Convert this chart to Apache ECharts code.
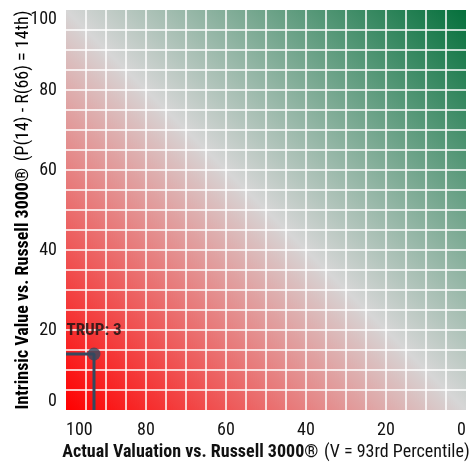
<!DOCTYPE html>
<html>
<head>
<meta charset="utf-8">
<script src="https://cdn.jsdelivr.net/npm/echarts@6/dist/echarts.min.js"></script>
<style>
  html, body { margin: 0; padding: 0; background: #ffffff; }
  #chart { width: 474px; height: 463px; }
</style>
</head>
<body>
<div id="chart"></div>
<script>
// ---- data ----
const companyNames = ['TRUP'];
const companyScores = [3];
const actualValuation = [93];   // x: percentile vs Russell 3000
const intrinsicValue = [14];    // y: percentile vs Russell 3000
const axisMin = 0;
const axisMax = 100;
const labelStep = 20;
const gridStep = 5;
const xTitleBold = 'Actual Valuation vs. Russell 3000®';
const xTitleRegular = '(V = 93rd Percentile)';
const yTitleBold = 'Intrinsic Value vs. Russell 3000®';
const yTitleRegular = '(P(14) - R(66) = 14th)';

const FONT = "'Liberation Sans Narrow', 'Roboto Condensed', 'DejaVu Sans Condensed', sans-serif";

const chart = echarts.init(document.getElementById('chart'), null, { renderer: 'canvas' });

const pointData = companyNames.map((n, i) => ({
  name: n,
  value: [actualValuation[i], intrinsicValue[i]],
  score: companyScores[i]
}));

const guideData = [];
companyNames.forEach((n, i) => {
  guideData.push([axisMax, intrinsicValue[i]]);
  guideData.push([actualValuation[i], intrinsicValue[i]]);
  guideData.push([actualValuation[i], axisMin]);
});

const splitStyle = { color: '#ffffff', width: 1.5 };
const titleRich = {
  b: { fontFamily: FONT, fontWeight: 'bold', fontSize: 18, color: '#111' },
  r: { fontFamily: FONT, fontSize: 18, color: '#111' }
};

const option = {
  animation: false,
  textStyle: { fontFamily: FONT },
  grid: {
    left: 66, right: 8, top: 10, bottom: 53,
    containLabel: false,
    outerBoundsMode: 'none',
    show: true,
    borderWidth: 0,
    backgroundColor: {
      type: 'linear', x: 0, y: 1, x2: 1, y2: 0,
      colorStops: [
        { offset: 0, color: '#ff0000' },
        { offset: 0.5, color: '#d6d6d6' },
        { offset: 1, color: '#05703c' }
      ]
    }
  },
  graphic: [
    {
      type: 'text',
      x: 23, y: 210,
      rotation: Math.PI / 2,
      style: {
        text: '{b|' + yTitleBold + '}  {r|' + yTitleRegular + '}',
        rich: titleRich,
        align: 'center',
        verticalAlign: 'middle'
      }
    }
  ],
  xAxis: {
    type: 'value',
    inverse: true,
    min: axisMin, max: axisMax, interval: labelStep,
    axisLine: { show: false },
    axisTick: { show: false },
    minorTick: { show: false, splitNumber: labelStep / gridStep },
    splitLine: { show: true, showMinLine: false, showMaxLine: false, lineStyle: splitStyle },
    minorSplitLine: { show: true, lineStyle: splitStyle },
    axisLabel: {
      color: '#111', fontSize: 18, fontFamily: FONT, margin: 11,
      alignMinLabel: 'right', alignMaxLabel: 'left'
    },
    name: '{b|' + xTitleBold + '}  {r|' + xTitleRegular + '}',
    nameLocation: 'middle',
    nameGap: 33,
    nameTextStyle: { rich: titleRich }
  },
  yAxis: {
    type: 'value',
    min: axisMin, max: axisMax, interval: labelStep,
    axisLine: { show: false },
    axisTick: { show: false },
    minorTick: { show: false, splitNumber: labelStep / gridStep },
    splitLine: { show: true, showMinLine: false, showMaxLine: false, lineStyle: splitStyle },
    minorSplitLine: { show: true, lineStyle: splitStyle },
    axisLabel: {
      color: '#111', fontSize: 18, fontFamily: FONT, margin: 9,
      verticalAlignMinLabel: 'bottom', verticalAlignMaxLabel: 'top'
    }
  },
  series: [
    {
      type: 'line',
      data: guideData,
      symbol: 'none',
      lineStyle: { color: '#34495e', width: 3 },
      silent: true,
      z: 3
    },
    {
      type: 'scatter',
      data: pointData,
      symbolSize: 13,
      itemStyle: { color: '#34495e' },
      label: {
        show: true,
        position: 'top',
        distance: 8,
        formatter: p => p.name + ': ' + p.data.score,
        fontFamily: FONT,
        fontWeight: 'bold',
        fontSize: 17,
        color: '#111'
      },
      z: 4
    }
  ]
};

chart.setOption(option);
</script>
</body>
</html>
